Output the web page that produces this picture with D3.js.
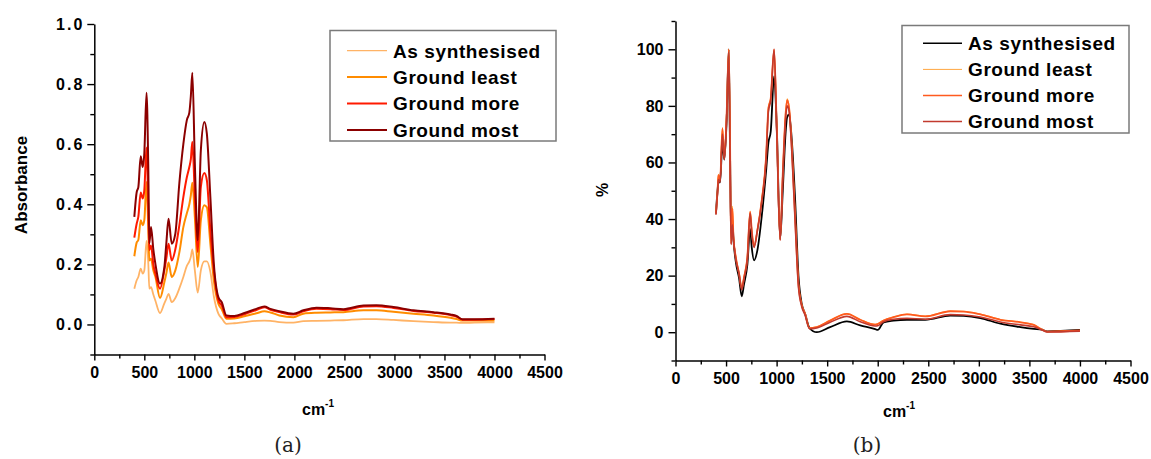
<!DOCTYPE html>
<html><head><meta charset="utf-8">
<script src="https://cdn.jsdelivr.net/npm/d3@7"></script>
<style>
body{margin:0;background:#fff;}
</style></head>
<body><svg id="c" width="1151" height="459"></svg>
<script>
// ---------- DATA ----------
const seriesNames = ["As synthesised","Ground least","Ground more","Ground most"];

// (a) Absorbance
const wavenumbersA = [400,424,440,464,484,500,522,540,550,567,590,610,657,700,720,742,774,810,850,890,925,950,965,980,1005,1034,1065,1100,1125,1160,1195,1240,1275,1320,1400,1500,1620,1700,1760,1850,1990,2090,2220,2360,2490,2690,2820,2990,3190,3390,3560,3620,3680,3800,4000];
const absAsSynth = [.119,.147,.158,.186,.169,.18,.278,.202,.119,.124,.10,.08,.038,.07,.085,.102,.074,.088,.12,.158,.195,.21,.225,.25,.18,.106,.18,.21,.21,.175,.093,.036,.02,.002,.004,.008,.012,.013,.012,.008,.006,.011,.012,.013,.014,.018,.018,.015,.011,.008,.006,.006,.005,.006,.007];
const absLeast = [.227,.273,.281,.347,.33,.347,.474,.313,.213,.219,.18,.16,.088,.14,.17,.206,.158,.18,.24,.324,.37,.40,.43,.472,.358,.191,.347,.397,.39,.269,.147,.069,.05,.019,.02,.027,.037,.044,.04,.03,.024,.036,.039,.040,.041,.047,.047,.042,.036,.030,.022,.018,.013,.013,.013];
const absMore = [.289,.336,.358,.439,.419,.447,.589,.38,.247,.263,.2,.17,.119,.18,.22,.269,.213,.25,.33,.424,.49,.524,.55,.608,.424,.241,.458,.504,.48,.313,.18,.08,.062,.024,.025,.034,.048,.057,.049,.041,.033,.044,.052,.051,.048,.060,.061,.055,.045,.039,.031,.026,.016,.016,.018];
const absMost = [.358,.441,.456,.56,.524,.57,.771,.513,.27,.324,.25,.203,.136,.19,.27,.352,.269,.302,.47,.60,.68,.705,.76,.838,.536,.28,.58,.674,.635,.424,.202,.091,.073,.03,.028,.038,.052,.06,.052,.044,.036,.047,.056,.054,.051,.063,.064,.058,.047,.041,.033,.028,.017,.017,.019];

// (b) normalised %
const wavenumbersB = [400,418,424,441,464,483,506,527,540,550,563,573,596,629,655,678,711,738,754,777,810,853,896,919,942,975,1002,1035,1061,1088,1104,1124,1150,1183,1216,1249,1282,1325,1397,1529,1695,1827,1975,2000,2058,2157,2289,2470,2718,2850,3015,3213,3411,3543,3625,3675,4000];
const pctAsSynth = [42,51,53,53,67,61,75,100,62,35,40,33,25,19,12.7,17,24,36.5,30,25.4,29,41,57,67,71,90.5,72,33,50,70,76,77,68,47,20,10,6.5,1.5,0,1.8,3.8,2.4,1.1,0.8,3.5,4.1,4.4,4.4,5.9,5.8,5.0,3.0,1.8,1.2,0.9,0.3,0.8];
const pctLeast = [42.2,51.5,55.8,54,72.3,61.8,77.5,100,66,32,44.5,34,26.8,21,15.8,19.8,27,42.8,36.3,30.6,36.3,47,62.3,79.5,83,99.6,72,33,56.5,77,82.5,79.5,66,41,17.4,9.7,6.6,1.5,1.9,4.2,6.6,4.5,2.8,3.0,4.2,5.4,6.4,5.7,7.5,7.4,6.4,4.5,3.6,2.7,1.0,0.2,0.6];
const pctMore = [41.9,51.3,55.5,53.7,72,61.4,77.3,100,65.5,31.3,43.7,33.6,26.6,20.7,15.4,19.5,26.6,42.5,36,30.3,36,46.6,62,79.1,82.6,100,71.4,32.7,56,76.7,82,79.1,65.5,40.7,17.1,9.5,6.5,1.4,1.8,4.1,6.5,4.4,2.7,2.9,4.1,5.3,6.3,5.6,7.4,7.3,6.3,4.4,3.5,2.6,0.9,0.2,0.6];
const pctMost = [41.5,50.5,54,53,70,61,76,99,60,31,38,33,26,20.5,15,19,26,42,35,30,36,46,61,78,82,100,70,32.5,55,75,80,78,64,39,16,9,6,1.2,1.5,3.5,5.6,3.7,2.2,2.3,3.7,4.6,4.9,4.6,6.2,6.1,5.4,3.6,2.6,1.9,0.8,0.1,0.4];

const xTicks = [0,500,1000,1500,2000,2500,3000,3500,4000,4500];
const yTicksA = [0.0,0.2,0.4,0.6,0.8,1.0];
const yTicksB = [0,20,40,60,80,100];

// ---------- DRAW ----------
const svg = d3.select("#c");
const SANS = "'Liberation Sans', Arial, sans-serif";

function panel(o){
  const g = svg.append("g");
  const x = d3.scaleLinear().domain([0,4500]).range([o.x0,o.x1]);
  const y = d3.scaleLinear().domain(o.ydom).range([o.yb,o.yt]);
  // minor ticks
  g.append("g").attr("transform",`translate(0,${o.yb})`)
    .call(d3.axisBottom(x).tickValues(d3.range(250,4500,500)).tickSize(4).tickFormat(""))
    .call(s=>s.select(".domain").remove());
  g.append("g").attr("transform",`translate(${o.x0},0)`)
    .call(d3.axisLeft(y).tickValues(o.yMinor).tickSize(4).tickFormat(""))
    .call(s=>s.select(".domain").remove());
  const xa = g.append("g").attr("transform",`translate(0,${o.yb})`)
    .call(d3.axisBottom(x).tickValues(xTicks).tickSize(6).tickSizeOuter(0).tickPadding(6.5).tickFormat(d3.format("d")));
  const ya = g.append("g").attr("transform",`translate(${o.x0},0)`)
    .call(d3.axisLeft(y).tickValues(o.yTicks).tickSize(7).tickSizeOuter(0).tickPadding(o.ypad).tickFormat(o.fmt));
  [xa,ya].forEach(a=>{
    a.selectAll("text").style("font-family",SANS).style("font-size","16px").style("font-weight","bold").attr("fill","#000");
    a.select(".domain").attr("stroke","#000").attr("stroke-width",1.5);
  });
  ya.selectAll("text").style("letter-spacing",o.yls);
  g.selectAll(".tick line").attr("stroke","#000").attr("stroke-width",1.4);
  // lines
  const line = d3.line().x(d=>x(d[0])).y(d=>y(d[1])).curve(d3.curveMonotoneX);
  o.series.forEach(s=>{
    g.append("path").datum(o.xs.map((v,i)=>[v,s.vals[i]]))
      .attr("d",line).attr("fill","none").attr("stroke",s.color)
      .attr("stroke-width",s.w).attr("stroke-linejoin","round");
  });
  // y label
  g.append("text").attr("transform",`translate(${o.ylx},${o.yly}) rotate(-90)`)
    .attr("text-anchor","middle").attr("dominant-baseline","central")
    .style("font-family",SANS).style("font-size",o.ylfs+"px").style("font-weight","bold").text(o.ylabel);
  // x label cm-1
  const xl = g.append("text").attr("x",o.xlx).attr("y",o.xly).attr("text-anchor","middle")
    .style("font-family",SANS).style("font-size","16px").style("font-weight","bold");
  xl.append("tspan").text("cm");
  xl.append("tspan").style("font-size","10px").attr("dy",-8).text("-1");
  // caption
  g.append("text").attr("x",o.capx).attr("y",452).attr("text-anchor","middle")
    .style("font-family","'DejaVu Serif', 'Liberation Serif', serif").style("font-size","20px").attr("fill","#222").text(o.cap);
  // legend
  const L = o.leg;
  g.append("rect").attr("x",L.x).attr("y",L.y).attr("width",L.w).attr("height",L.h)
    .attr("fill","#fff").attr("stroke","#7a7a7a").attr("stroke-width",1.5);
  o.series.forEach((s,i)=>{
    const cy = L.r0 + i*L.dy;
    g.append("line").attr("x1",L.lx0).attr("x2",L.lx1).attr("y1",cy).attr("y2",cy)
      .attr("stroke",s.color).attr("stroke-width",s.lw);
    g.append("text").attr("x",L.tx).attr("y",cy).attr("dy","0.36em")
      .style("font-family",SANS).style("font-size","19px").style("font-weight","bold")
      .style("letter-spacing","0.6px").text(s.name);
  });
}

panel({
  x0:94.3,x1:544.5,yb:354.5,yt:24,ydom:[-0.1,1.0],
  yTicks:yTicksA, yMinor:[-0.1,0.1,0.3,0.5,0.7,0.9], fmt:d3.format(".1f"), ypad:3, yls:"2px",
  xs:wavenumbersA,
  series:[
    {name:seriesNames[0],vals:absAsSynth,color:"#FFB366",w:1.8,lw:1.2},
    {name:seriesNames[1],vals:absLeast,color:"#FF8C00",w:2,lw:2},
    {name:seriesNames[2],vals:absMore,color:"#FF1A00",w:2,lw:2},
    {name:seriesNames[3],vals:absMost,color:"#8B0000",w:2,lw:2}
  ],
  ylabel:"Absorbance", ylx:21, yly:185, ylfs:17,
  xlx:318, xly:415, cap:"(a)", capx:288,
  leg:{x:330,y:30.5,w:226,h:110.5,lx0:347,lx1:387,tx:393,r0:50.7,dy:26.4}
});

panel({
  x0:675.5,x1:1130.5,yb:360.5,yt:21,ydom:[-10,110],
  yTicks:yTicksB, yMinor:[-10,10,30,50,70,90,110], fmt:d3.format("d"), ypad:5, yls:"0px",
  xs:wavenumbersB,
  series:[
    {name:seriesNames[0],vals:pctAsSynth,color:"#000000",w:1.8,lw:1.5},
    {name:seriesNames[1],vals:pctLeast,color:"#FFA640",w:1.2,lw:1},
    {name:seriesNames[2],vals:pctMore,color:"#FF5A1F",w:1.8,lw:1.5},
    {name:seriesNames[3],vals:pctMost,color:"#C23A2E",w:1.6,lw:1.5}
  ],
  ylabel:"%", ylx:602, yly:190, ylfs:16,
  xlx:899, xly:417, cap:"(b)", capx:867,
  leg:{x:902,y:25.5,w:227,h:107.5,lx0:923,lx1:962,tx:968,r0:43.3,dy:26.1}
});
</script></body></html>
